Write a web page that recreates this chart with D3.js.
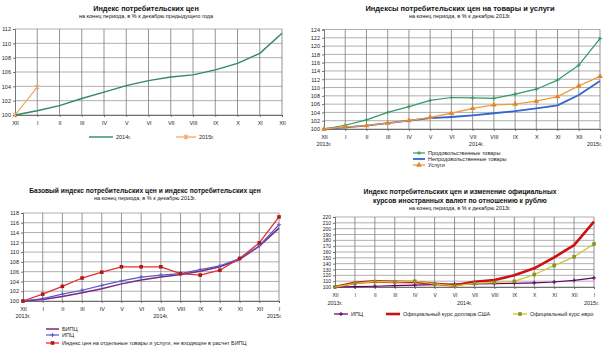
<!DOCTYPE html>
<html><head><meta charset="utf-8">
<script src="https://cdn.jsdelivr.net/npm/d3@7"></script>
<style>
body{margin:0;background:#fff}
svg{display:block;font-family:"Liberation Sans",Arial,sans-serif}
</style>
</head><body>
<svg id="c" width="608" height="355"></svg>
<script>
// ---- data ----
const months13 = ["XII","I","II","III","IV","V","VI","VII","VIII","IX","X","XI","XII"];
const months14 = ["XII","I","II","III","IV","V","VI","VII","VIII","IX","X","XI","XII","I"];
const ticksA = [100,102,104,106,108,110,112];
const ticksB = [100,102,104,106,108,110,112,114,116,118,120,122,124];
const ticksC = [100,102,104,106,108,110,112,114,116,118];
const ticksD = [100,110,120,130,140,150,160,170,180,190,200,210,220];
const yearsLabels = ["2013г.","2014г.","2015г."];

const cpi2014 = [100,100.6,101.3,102.3,103.2,104.1,104.8,105.3,105.6,106.3,107.2,108.6,111.4];
const cpi2015 = [100,103.9];

const food    = [100,100.9,102.2,104.0,105.4,106.9,107.6,107.5,107.4,108.4,109.6,111.8,115.4,121.8];
const nonfood = [100,100.4,100.8,101.4,102.0,102.6,102.9,103.3,103.8,104.3,105.0,105.7,108.2,111.6];
const services= [100,100.5,100.8,101.4,102.0,102.8,103.8,105.0,105.8,106.0,106.7,107.8,110.4,112.7];

const bipc     = [100,100.3,100.9,101.7,102.5,103.5,104.3,104.9,105.4,106.1,107.0,108.5,111.2,114.9];
const cpiBase  = [100,100.5,101.4,102.2,103.2,104.1,104.9,105.3,105.6,106.4,107.2,108.7,111.3,115.6];
const excluded = [100,101.4,103.0,104.7,105.9,107.0,107.0,107.0,105.6,105.3,106.3,108.7,111.9,117.2];

const cpiFx = [100,100.6,101.3,102.3,103.2,104.1,104.8,105.3,105.6,106.3,107.2,108.6,111.4,115.6];
const usd   = [100,107.3,109.6,108.8,108.5,105.6,102.8,108.9,112.0,120.1,132.0,150.8,171.8,212.0];
const eur   = [100,106.2,109.4,108.6,109.9,105.3,101.8,106.1,107.8,109.7,121.4,136.8,151.8,173.8];

const svg = d3.select("#c");

function marker(g, type, x, y, color){
  if(!type) return;
  if(type==="plus"){
    g.append("path").attr("d",`M${x-2},${y}H${x+2}M${x},${y-2}V${y+2}`)
      .attr("stroke",color).attr("stroke-width",1).attr("fill","none");
  } else if(type==="tri"){
    g.append("path").attr("d",d3.symbol(d3.symbolTriangle,14)()).attr("transform",`translate(${x},${y})`).attr("fill",color);
  } else if(type==="square"){
    g.append("rect").attr("x",x-1.8).attr("y",y-1.8).attr("width",3.6).attr("height",3.6).attr("fill",color);
  } else if(type==="star"){
    g.append("path").attr("d",`M${x-2.2},${y-2.2}L${x+2.2},${y+2.2}M${x-2.2},${y+2.2}L${x+2.2},${y-2.2}M${x},${y-2.6}V${y+2.6}`)
      .attr("stroke",color).attr("stroke-width",1).attr("fill","none");
  }
}

function panel(cfg){
  const g = svg.append("g");
  const x = d3.scalePoint().domain(d3.range(cfg.cats.length)).range([cfg.x0,cfg.x1]);
  const y = d3.scaleLinear().domain(cfg.yDomain).range([cfg.y1,cfg.y0]);
  // grid
  g.append("g").selectAll("line").data(cfg.yTicks).join("line")
    .attr("x1",cfg.x0).attr("x2",cfg.x1).attr("y1",d=>y(d)).attr("y2",d=>y(d))
    .attr("stroke","#9a9a9a").attr("stroke-width",0.8);
  g.append("g").selectAll("line").data(d3.range(1,cfg.cats.length)).join("line")
    .attr("x1",d=>x(d)).attr("x2",d=>x(d)).attr("y1",cfg.y0).attr("y2",cfg.y1)
    .attr("stroke","#7a7a7a").attr("stroke-width",0.8);
  // axes
  const ya = g.append("g").attr("transform",`translate(${cfg.x0},0)`)
    .call(d3.axisLeft(y).tickValues(cfg.yTicks).tickSize(2).tickPadding(2).tickFormat(d3.format("d")));
  const xa = g.append("g").attr("transform",`translate(0,${cfg.y1})`)
    .call(d3.axisBottom(x).tickSize(2).tickPadding(4).tickFormat(i=>cfg.cats[i]));
  [ya,xa].forEach(a=>{
    a.selectAll("path,line").attr("stroke","#555").attr("stroke-width",0.8);
    a.selectAll("text").attr("font-size",cfg.tickFont||5.5).attr("fill","#222").attr("font-family","Liberation Sans, Arial, sans-serif");
  });
  // year labels
  (cfg.years||[]).forEach(yy=>{
    g.append("text").attr("x",x(yy.i)+(yy.dx||0)).attr("y",cfg.yearY).attr("text-anchor",yy.anchor||"middle")
      .attr("font-size",5.5).attr("fill","#222").text(yy.text);
  });
  // series
  cfg.series.forEach(s=>{
    const line = d3.line().x((d,i)=>x(i)).y(d=>y(d));
    g.append("path").datum(s.values).attr("d",line).attr("fill","none")
      .attr("stroke",s.color).attr("stroke-width",s.width||1.2).attr("stroke-linejoin","round");
    s.values.forEach((v,i)=>marker(g,s.marker,x(i),y(v),s.mcolor||s.color));
  });
  // titles
  cfg.titles.forEach(t=>{
    g.append("text").attr("x",cfg.cx).attr("y",t.y).attr("text-anchor","middle")
      .attr("font-size",t.size).attr("font-weight",t.bold?"bold":"normal").attr("fill","#111").text(t.text);
  });
  // legend
  cfg.legend.forEach(l=>{
    const s = cfg.series[l.s];
    g.append("line").attr("x1",l.x).attr("x2",l.x+l.w).attr("y1",l.y).attr("y2",l.y)
      .attr("stroke",s.color).attr("stroke-width",s.width||1.2);
    marker(g,s.marker,l.x+l.w/2,l.y,s.mcolor||s.color);
    g.append("text").attr("x",l.x+l.w+3).attr("y",l.y+2).attr("font-size",5.5).attr("fill","#222").text(l.text);
  });
}

// Panel 1
panel({
  x0:15,x1:282,y0:29,y1:115,cats:months13,yDomain:[100,112],yTicks:ticksA,
  series:[
    {values:cpi2014,color:"#2f8a62",width:1.4},
    {values:cpi2015,color:"#f0a060",width:1.2,marker:"star"}
  ],
  cx:146,
  titles:[
    {text:"Индекс потребительских цен",y:11,size:7.3,bold:true},
    {text:"на конец периода, в % к декабрю предыдущего года",y:18,size:5.5}
  ],
  legend:[
    {s:0,x:89,y:137,w:24,text:"2014г."},
    {s:1,x:176,y:137,w:20,text:"2015г."}
  ]
});

// Panel 2
panel({
  x0:324,x1:600,y0:29.5,y1:129,cats:months14,yDomain:[100,124],yTicks:ticksB,
  series:[
    {values:food,color:"#339966",width:1.2,marker:"plus"},
    {values:nonfood,color:"#3366cc",width:1.8},
    {values:services,color:"#f39a3a",width:1.3,marker:"tri",mcolor:"#e0852a"}
  ],
  cx:460,
  titles:[
    {text:"Индексы потребительских цен на товары и услуги",y:11,size:7.5,bold:true},
    {text:"на конец периода, в % к декабрю 2013г.",y:17.5,size:5.5}
  ],
  years:[{i:0,text:yearsLabels[0]},{i:6,text:yearsLabels[1],dx:25},{i:13,text:yearsLabels[2],anchor:"end",dx:2}],
  yearY:146,
  legend:[
    {s:0,x:413,y:153,w:12,text:"Продовольственные товары"},
    {s:1,x:413,y:159,w:12,text:"Непродовольственные товары"},
    {s:2,x:413,y:165,w:12,text:"Услуги"}
  ]
});

// Panel 3
panel({
  x0:23,x1:279,y0:213,y1:301,cats:months14,yDomain:[100,118],yTicks:ticksC,
  series:[
    {values:bipc,color:"#7a2a7a",width:1.5},
    {values:cpiBase,color:"#5a5ac8",width:1.2,marker:"plus"},
    {values:excluded,color:"#e03030",width:1.3,marker:"square",mcolor:"#b01818"}
  ],
  cx:145,
  titles:[
    {text:"Базовый индекс потребительских цен и индекс потребительских цен",y:193,size:6.7,bold:true},
    {text:"на конец периода, в % к декабрю 2013г.",y:200,size:5.5}
  ],
  years:[{i:0,text:yearsLabels[0]},{i:7,text:yearsLabels[1],dx:0},{i:13,text:yearsLabels[2],anchor:"end",dx:3}],
  yearY:318,
  legend:[
    {s:0,x:46,y:329,w:13,text:"БИПЦ"},
    {s:1,x:46,y:335,w:13,text:"ИПЦ"},
    {s:2,x:46,y:343,w:13,text:"Индекс цен на отдельные товары и услуги, не входящие в расчет БИПЦ"}
  ]
});

// Panel 4
panel({
  x0:335,x1:594,y0:217,y1:287,cats:months14,yDomain:[100,220],yTicks:ticksD,tickFont:5,
  series:[
    {values:cpiFx,color:"#660066",width:1.2,marker:"plus"},
    {values:usd,color:"#cc1111",width:2.6},
    {values:eur,color:"#c8c832",width:1.3,marker:"square",mcolor:"#8c8c2a"}
  ],
  cx:460,
  titles:[
    {text:"Индекс потребительских цен и изменение официальных",y:194,size:6.8,bold:true},
    {text:"курсов иностранных валют по отношению к рублю",y:203,size:6.8,bold:true},
    {text:"на конец периода, в % к декабрю 2013г.",y:210,size:5.5}
  ],
  years:[{i:0,text:yearsLabels[0]},{i:6,text:yearsLabels[1],dx:10},{i:13,text:yearsLabels[2],anchor:"end",dx:5}],
  yearY:305,
  legend:[
    {s:0,x:334,y:314,w:14,text:"ИПЦ"},
    {s:1,x:386,y:314,w:14,text:"Официальный курс доллара США"},
    {s:2,x:513,y:314,w:14,text:"Официальный курс евро"}
  ]
});
</script>
</body></html>
